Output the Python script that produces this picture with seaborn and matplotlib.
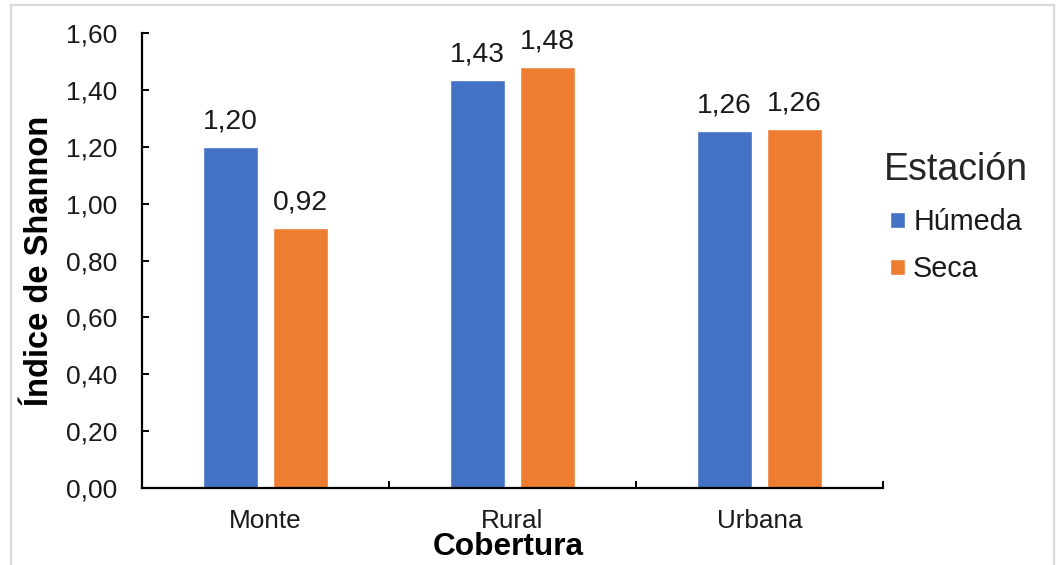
import matplotlib
matplotlib.use("Agg")
import matplotlib.pyplot as plt
from matplotlib.patches import Rectangle
from matplotlib.ticker import FuncFormatter, FixedLocator
import seaborn as sns
import pandas as pd

# Shannon diversity index by land cover and season
coberturas = ["Monte", "Rural", "Urbana"]
estaciones = ["Húmeda", "Seca"]
humeda = [1.20, 1.434, 1.256]
seca = [0.916, 1.48, 1.264]
colores = ["#4472C4", "#ED7D31"]
yticks = [0.0, 0.2, 0.4, 0.6, 0.8, 1.0, 1.2, 1.4, 1.6]

df = pd.DataFrame({
    "Cobertura": coberturas * 2,
    "Estación": [estaciones[0]] * 3 + [estaciones[1]] * 3,
    "Índice": humeda + seca,
})

sns.set_theme(style="white")
plt.rcParams["font.family"] = ["Liberation Sans", "DejaVu Sans"]

fig = plt.figure(figsize=(10.56, 5.65), dpi=100)
ax = fig.add_axes([142 / 1056, 1 - 488 / 565, 741 / 1056, 455 / 565])

sns.barplot(data=df, x="Cobertura", y="Índice", hue="Estación",
            order=coberturas, hue_order=estaciones, palette=colores,
            saturation=1, width=0.57, gap=0.218, ax=ax)

def coma(v, pos=None):
    return f"{v:.2f}".replace(".", ",")

for cont, vals in zip(ax.containers, [humeda, seca]):
    ax.bar_label(cont, labels=[coma(v) for v in vals], padding=9,
                 fontsize=20.3, color="#1a1a1a")

ax.set_xlim(-0.5, 2.5)
ax.set_ylim(0, 1.6)
ax.yaxis.set_major_locator(FixedLocator(yticks))
ax.yaxis.set_major_formatter(FuncFormatter(coma))

for s in ["top", "right"]:
    ax.spines[s].set_visible(False)
for s in ["left", "bottom"]:
    ax.spines[s].set_color("black")
    ax.spines[s].set_linewidth(1.6)

ax.tick_params(axis="y", direction="in", length=5, width=1.4, color="black",
               pad=18, labelsize=19, labelcolor="#1a1a1a", left=True)
ax.tick_params(axis="x", which="major", length=0, pad=15, labelsize=18.8,
               labelcolor="#1a1a1a")
ax.set_xticks([-0.5, 0.5, 1.5, 2.5], minor=True)
ax.tick_params(axis="x", which="minor", direction="in", length=5, width=1.4,
               color="black", bottom=True)

ax.set_ylabel("Índice de Shannon", fontsize=23.5, fontweight="bold", color="black")
ax.set_xlabel("Cobertura", fontsize=22.8, fontweight="bold", color="black")
ax.yaxis.set_label_coords(-0.118, 0.5)
ax.xaxis.set_label_coords(0.494, -0.097)

leg = ax.legend(title="Estación", loc="upper center",
                bbox_to_anchor=(956 / 1056, 1 - 138 / 565),
                bbox_transform=fig.transFigure, frameon=False,
                fontsize=20.7, title_fontsize=27, handlelength=0.5,
                handleheight=0.5, handletextpad=0.3, labelspacing=0.68,
                borderpad=0)
for t in leg.get_texts():
    t.set_color("#1a1a1a")

fig.add_artist(Rectangle((11 / 1056, -0.1), 1043 / 1056, 0.1 + 1 - 5 / 565,
                         transform=fig.transFigure, fill=False,
                         edgecolor="#D9D9D9", linewidth=1.6))

fig.savefig("out.png", dpi=100)
